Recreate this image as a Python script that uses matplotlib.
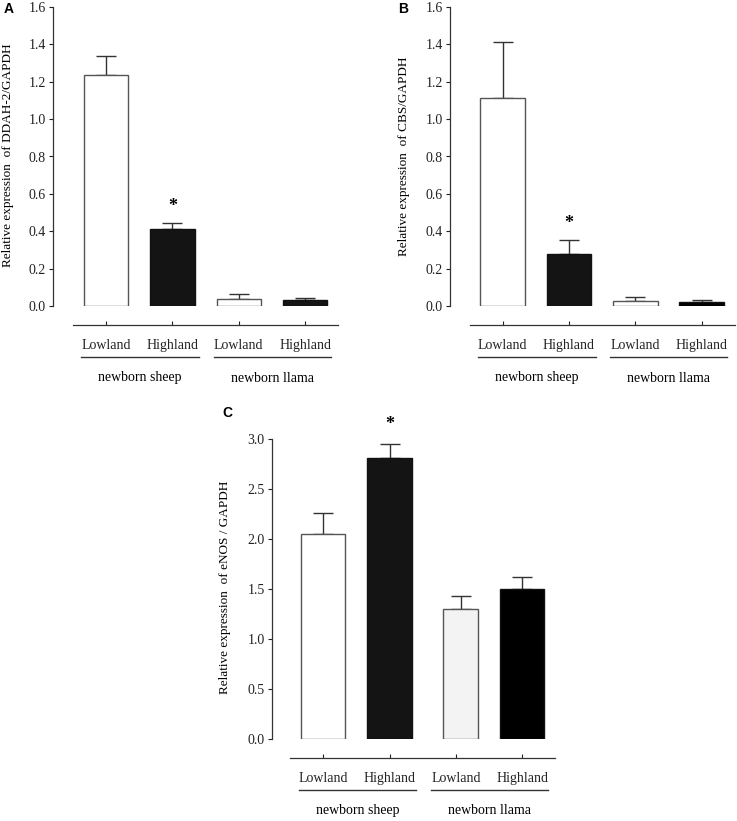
import numpy as np
import matplotlib.pyplot as plt
from matplotlib.transforms import ScaledTranslation

plt.rcParams['font.family'] = ['Liberation Serif', 'DejaVu Serif']
plt.rcParams['font.size'] = 10

# --- data ---
conds = ['Lowland', 'Highland', 'Lowland', 'Highland']
groups = ['newborn sheep', 'newborn llama']

ddah_mean = [1.234, 0.410, 0.036, 0.032]
ddah_err = [0.104, 0.034, 0.030, 0.012]
cbs_mean = [1.115, 0.278, 0.025, 0.021]
cbs_err = [0.297, 0.075, 0.025, 0.013]
enos_mean = [2.05, 2.815, 1.30, 1.497]
enos_err = [0.208, 0.135, 0.13, 0.12]

W, H = 737, 821
fig = plt.figure(figsize=(W / 100, H / 100), dpi=100)


def box(left, top, right, bottom):
    return [left / W, 1 - bottom / H, (right - left) / W, (bottom - top) / H]


def panel(rect, xlim, means, errs, ymax, ystep, ylabel, letter, letter_xy,
          faces, star_y, widths=None, shift=None, ylab_xy=None):
    ax = fig.add_axes(rect)
    x = np.arange(len(means))
    if widths is None:
        widths = [0.67] * len(means)
    if shift is None:
        shift = [0] * len(means)
    xb = x + np.array(shift)
    edges = ['#555555' if f in ('white', '#f3f3f3') else '#111111' for f in faces]
    ax.bar(xb, means, width=widths, color=faces, edgecolor=edges, linewidth=1, zorder=2)
    ax.errorbar(xb, means, yerr=[np.zeros(len(errs)), errs], fmt='none',
                ecolor='#333333', elinewidth=1, capsize=7.5, capthick=1, zorder=1)
    ax.text(xb[1], star_y, '*', ha='center', va='center', fontsize=13,
            weight='bold', clip_on=False)

    ax.set_xlim(*xlim)
    ax.set_ylim(0, ymax)
    ax.set_yticks(np.arange(0, ymax + 1e-9, ystep))
    ax.set_yticklabels([f'{v:.1f}' for v in np.arange(0, ymax + 1e-9, ystep)])
    ax.set_xticks(x)
    ax.set_xticklabels(conds)
    for s in ('top', 'right'):
        ax.spines[s].set_visible(False)
    ax.spines['left'].set_bounds(0, ymax)
    ax.spines['bottom'].set_position(('outward', 13.7))
    ax.spines['bottom'].set_bounds(-0.5, 3.5)
    for s in ('left', 'bottom'):
        ax.spines[s].set_color('#333333')
        ax.spines[s].set_linewidth(0.9)
    ax.tick_params(axis='y', direction='out', length=3, width=0.8, pad=2, colors='#222222')
    ax.tick_params(axis='x', direction='in', length=3, width=0.8, pad=10, colors='#222222')

    # group lines and labels under the tick labels
    tr_line = ax.get_xaxis_transform() + ScaledTranslation(0, -51 / 100, fig.dpi_scale_trans)
    for (a, b), g in zip([(-0.37, 1.40), (1.62, 3.39)], groups):
        ax.plot([a, b], [0, 0], color='#333333', lw=1, transform=tr_line, clip_on=False)
        ax.annotate(g, xy=((a + b) / 2, 0), xycoords=ax.get_xaxis_transform(),
                    xytext=(0, -72 * 0.72), textcoords='offset points',
                    ha='center', va='center')

    fig.text(ylab_xy[0] / W, 1 - ylab_xy[1] / H, ylabel, rotation=90,
             ha='center', va='center', fontsize=9.5)
    fig.text(letter_xy[0] / W, 1 - letter_xy[1] / H, letter, family='Liberation Sans',
             weight='bold', fontsize=10, ha='center', va='center')
    return ax


dark = '#141414'
panel(box(53, 7, 345, 306), (-0.798, 3.6), ddah_mean, ddah_err, 1.6, 0.2,
      'Relative expression  of DDAH-2/GAPDH', 'A', (9, 9),
      ['white', dark, 'white', dark], 0.53, ylab_xy=(8, 155))
panel(box(450, 7, 737, 306), (-0.795, 3.534), cbs_mean, cbs_err, 1.6, 0.2,
      'Relative expression  of CBS/GAPDH', 'B', (403, 9),
      ['white', dark, 'white', 'black'], 0.44, ylab_xy=(404, 156))
panel(box(271.7, 439.3, 560, 738.7), (-0.778, 3.57), enos_mean, enos_err, 3.0, 0.5,
      'Relative expression  of eNOS / GAPDH', 'C', (227, 413),
      ['white', dark, '#f3f3f3', 'black'], 3.15,
      widths=[0.67, 0.67, 0.53, 0.67], shift=[0, 0, 0.07, 0], ylab_xy=(225, 587))

fig.savefig('out.png', dpi=100)
